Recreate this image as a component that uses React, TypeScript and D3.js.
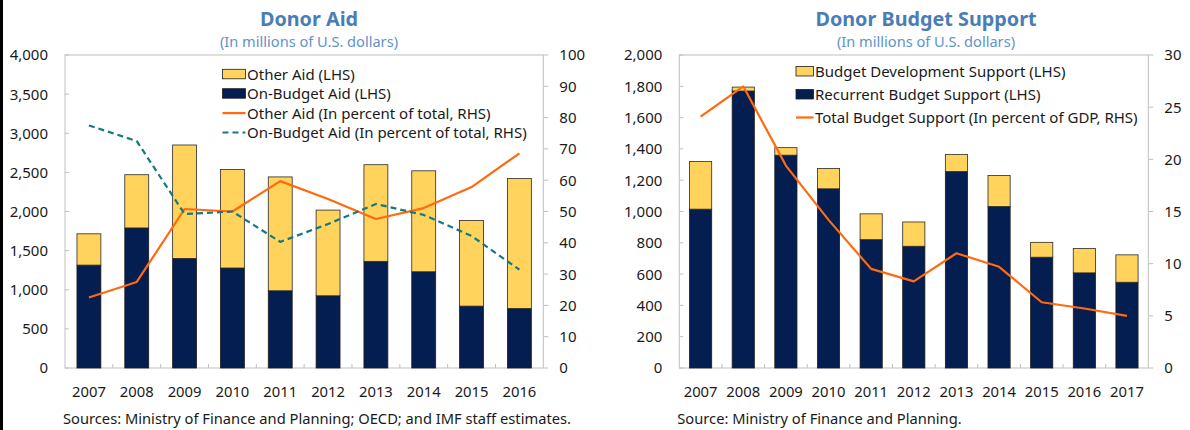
import React from "react";
import * as d3 from "d3";

// ---- Donor Aid (left panel) ----
const aidYears = ["2007", "2008", "2009", "2010", "2011", "2012", "2013", "2014", "2015", "2016"];
const onBudgetAid = [1315, 1790, 1400, 1278, 987, 923, 1363, 1230, 791, 761];
const otherAid = [400, 680, 1450, 1260, 1455, 1095, 1235, 1290, 1095, 1660];
const otherAidPct = [22.5, 27.5, 50.8, 50.0, 59.7, 54.0, 47.6, 51.1, 57.8, 68.6];
const onBudgetAidPct = [77.5, 72.5, 49.2, 50.0, 40.3, 46.0, 52.4, 48.9, 42.2, 31.4];
const aidLhsTicks = [0, 500, 1000, 1500, 2000, 2500, 3000, 3500, 4000];
const aidRhsTicks = [0, 10, 20, 30, 40, 50, 60, 70, 80, 90, 100];

// ---- Donor Budget Support (right panel) ----
const bsYears = ["2007", "2008", "2009", "2010", "2011", "2012", "2013", "2014", "2015", "2016", "2017"];
const recurrentBs = [1015, 1770, 1360, 1145, 820, 778, 1255, 1032, 708, 608, 548];
const developmentBs = [305, 25, 48, 130, 165, 155, 110, 198, 95, 155, 175];
const totalBsPct = [24.1, 27.0, 19.4, 14.2, 9.5, 8.3, 11.0, 9.7, 6.3, 5.7, 5.0];
const bsLhsTicks = [0, 200, 400, 600, 800, 1000, 1200, 1400, 1600, 1800, 2000];
const bsRhsTicks = [0, 5, 10, 15, 20, 25, 30];

const NAVY = "#041e52";
const YELLOW = "#ffd35c";
const ORANGE = "#ff6a10";
const TEAL = "#127a80";
const AXIS = "#bfbfbf";
const TITLE = "#4a7db6";
const SUBTITLE = "#5f93c8";
const FONT = "'Noto Sans', 'Open Sans', sans-serif";

type LegendItem = { label: string; kind: "box" | "line"; color: string; dash?: string };

type PanelProps = {
  left: number;
  right: number;
  cats: string[];
  bottomVals: number[];
  topVals: number[];
  lines: { values: number[]; color: string; dash?: string }[];
  lhsTicks: number[];
  rhsTicks: number[];
  barShare: number;
  title: string;
  subtitle: string;
  titleX: number;
  legend: LegendItem[];
  legendX: number;
  legendY: number;
  legendGap: number;
  swatchW: number;
  source: string;
};

const TOP = 55;
const BOTTOM = 368;

function Panel(p: PanelProps) {
  const x = d3
    .scaleBand<string>()
    .domain(p.cats)
    .range([p.left, p.right])
    .paddingInner(1 - p.barShare)
    .paddingOuter((1 - p.barShare) / 2);
  const yL = d3.scaleLinear().domain([0, d3.max(p.lhsTicks)!]).range([BOTTOM, TOP]);
  const yR = d3.scaleLinear().domain([0, d3.max(p.rhsTicks)!]).range([BOTTOM, TOP]);
  const fmt = d3.format(",");
  const step = x.step();
  const cx = (c: string) => x(c)! + x.bandwidth() / 2;

  return (
    <g fontFamily={FONT}>
      <text x={p.titleX} y={25.5} textAnchor="middle" fontSize={19.8} fontWeight="bold" fill={TITLE}>
        {p.title}
      </text>
      <text x={p.titleX} y={47} textAnchor="middle" fontSize={14.6} fill={SUBTITLE}>
        {p.subtitle}
      </text>

      {/* plot frame */}
      <rect x={p.left} y={TOP} width={p.right - p.left} height={BOTTOM - TOP} fill="none" stroke={AXIS} strokeWidth={1} />

      {p.lhsTicks.map((t) => (
        <g key={"l" + t}>
          <line x1={p.left} x2={p.left + 4} y1={yL(t)} y2={yL(t)} stroke={AXIS} />
          <text x={p.left - 17} y={yL(t)} dy="0.36em" textAnchor="end" fontSize={15} fill="#1a1a1a">
            {fmt(t)}
          </text>
        </g>
      ))}
      {p.rhsTicks.map((t) => (
        <g key={"r" + t}>
          <line x1={p.right} x2={p.right + 5} y1={yR(t)} y2={yR(t)} stroke={AXIS} />
          <text x={p.right + 16} y={yR(t)} dy="0.36em" fontSize={15} fill="#1a1a1a">
            {t}
          </text>
        </g>
      ))}
      {p.cats.slice(1).map((c, i) => (
        <line key={"xt" + c} x1={p.left + step * (i + 1)} x2={p.left + step * (i + 1)} y1={BOTTOM} y2={BOTTOM - 4} stroke={AXIS} />
      ))}

      {p.cats.map((c, i) => (
        <g key={"b" + c}>
          <rect
            x={x(c)}
            y={yL(p.bottomVals[i])}
            width={x.bandwidth()}
            height={BOTTOM - yL(p.bottomVals[i])}
            fill={NAVY}
            stroke="#1c1c1c"
            strokeWidth={0.8}
          />
          <rect
            x={x(c)}
            y={yL(p.bottomVals[i] + p.topVals[i])}
            width={x.bandwidth()}
            height={yL(p.bottomVals[i]) - yL(p.bottomVals[i] + p.topVals[i])}
            fill={YELLOW}
            stroke="#2a2a2a"
            strokeWidth={0.8}
          />
          <text x={cx(c)} y={397} textAnchor="middle" fontSize={14.8} fill="#1a1a1a">
            {c}
          </text>
        </g>
      ))}

      {p.lines.map((ln, k) => {
        const path = d3
          .line<number>()
          .x((_, i) => cx(p.cats[i]))
          .y((v) => yR(v))(ln.values);
        return (
          <path key={"ln" + k} d={path!} fill="none" stroke={ln.color} strokeWidth={2.2} strokeDasharray={ln.dash} strokeLinejoin="round" />
        );
      })}

      {p.legend.map((it, i) => {
        const yy = p.legendY + i * p.legendGap;
        return (
          <g key={"lg" + i}>
            {it.kind === "box" ? (
              <rect x={p.legendX} y={yy - 5} width={p.swatchW} height={9.5} fill={it.color} stroke="#1c1c1c" strokeWidth={0.8} />
            ) : (
              <line x1={p.legendX} x2={p.legendX + p.swatchW} y1={yy} y2={yy} stroke={it.color} strokeWidth={2.2} strokeDasharray={it.dash} />
            )}
            <text x={p.legendX + p.swatchW + 1.5} y={yy} dy="0.36em" fontSize={15} fill="#1a1a1a">
              {it.label}
            </text>
          </g>
        );
      })}

      <text x={p.left - 2} y={424} fontSize={14.7} fill="#1a1a1a">
        {p.source}
      </text>
    </g>
  );
}

export default function App() {
  return (
    <svg width={1190} height={430} style={{ position: "absolute", left: 0, top: 0, background: "#fff" }}>
      <rect width={1190} height={430} fill="#fff" />
      <line x1={1.5} x2={1.5} y1={0} y2={430} stroke="#000" strokeWidth={3} />
      <Panel
        left={65}
        right={543.3}
        cats={aidYears}
        bottomVals={onBudgetAid}
        topVals={otherAid}
        lines={[
          { values: otherAidPct, color: ORANGE },
          { values: onBudgetAidPct, color: TEAL, dash: "6 4" },
        ]}
        lhsTicks={aidLhsTicks}
        rhsTicks={aidRhsTicks}
        barShare={0.5}
        title="Donor Aid"
        subtitle="(In millions of U.S. dollars)"
        titleX={309}
        legend={[
          { label: "Other Aid (LHS)", kind: "box", color: YELLOW },
          { label: "On-Budget Aid (LHS)", kind: "box", color: NAVY },
          { label: "Other Aid (In percent of total, RHS)", kind: "line", color: ORANGE },
          { label: "On-Budget Aid (In percent of total, RHS)", kind: "line", color: TEAL, dash: "6 4" },
        ]}
        legendX={222.5}
        legendY={74.3}
        legendGap={19.4}
        swatchW={23}
        source="Sources: Ministry of Finance and Planning; OECD; and IMF staff estimates."
      />
      <Panel
        left={679.3}
        right={1148.3}
        cats={bsYears}
        bottomVals={recurrentBs}
        topVals={developmentBs}
        lines={[{ values: totalBsPct, color: ORANGE }]}
        lhsTicks={bsLhsTicks}
        rhsTicks={bsRhsTicks}
        barShare={0.52}
        title="Donor Budget Support"
        subtitle="(In millions of U.S. dollars)"
        titleX={926}
        legend={[
          { label: "Budget Development Support (LHS)", kind: "box", color: YELLOW },
          { label: "Recurrent Budget Support (LHS)", kind: "box", color: NAVY },
          { label: "Total Budget Support (In percent of GDP, RHS)", kind: "line", color: ORANGE },
        ]}
        legendX={796}
        legendY={71.5}
        legendGap={23}
        swatchW={17.5}
        source="Source: Ministry of Finance and Planning."
      />
    </svg>
  );
}
